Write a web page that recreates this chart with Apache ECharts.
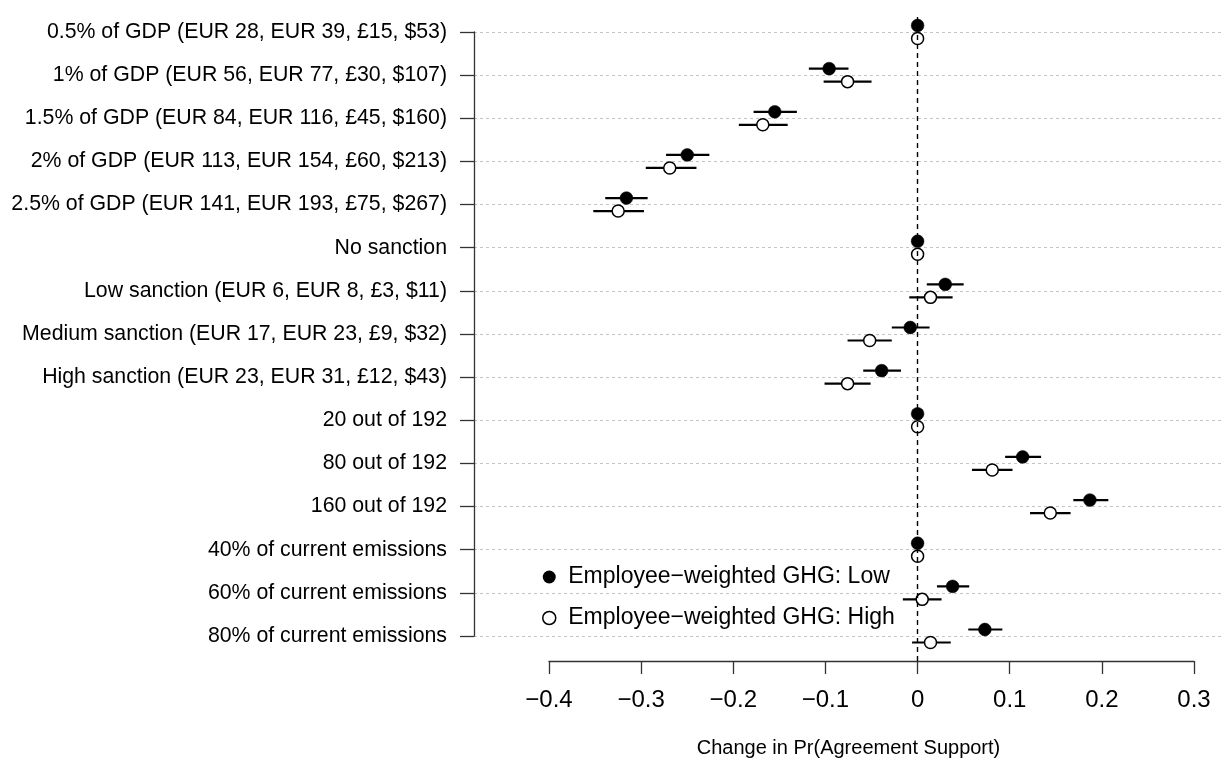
<!DOCTYPE html>
<html>
<head>
<meta charset="utf-8">
<script src="https://cdn.jsdelivr.net/npm/echarts@6/dist/echarts.min.js"></script>
<style>
html,body{margin:0;padding:0;background:#fff;}
#chart{width:1225px;height:764px;}
</style>
</head>
<body>
<div id="chart"></div>
<script>
const categories = [
  "0.5% of GDP (EUR 28, EUR 39, £15, $53)",
  "1% of GDP (EUR 56, EUR 77, £30, $107)",
  "1.5% of GDP (EUR 84, EUR 116, £45, $160)",
  "2% of GDP (EUR 113, EUR 154, £60, $213)",
  "2.5% of GDP (EUR 141, EUR 193, £75, $267)",
  "No sanction",
  "Low sanction (EUR 6, EUR 8, £3, $11)",
  "Medium sanction (EUR 17, EUR 23, £9, $32)",
  "High sanction (EUR 23, EUR 31, £12, $43)",
  "20 out of 192",
  "80 out of 192",
  "160 out of 192",
  "40% of current emissions",
  "60% of current emissions",
  "80% of current emissions"
];
const seriesNames = ["Employee\u2212weighted GHG: Low", "Employee\u2212weighted GHG: High"];

const lowEst  = [0, -0.096, -0.155, -0.250, -0.316, 0, 0.030, -0.008, -0.039, 0, 0.114, 0.187, 0, 0.038, 0.073];
const lowLo   = [null, -0.118, -0.178, -0.273, -0.339, null, 0.010, -0.028, -0.059, null, 0.095, 0.169, null, 0.021, 0.055];
const lowHi   = [null, -0.075, -0.131, -0.226, -0.293, null, 0.050, 0.013, -0.018, null, 0.134, 0.207, null, 0.056, 0.092];

const highEst = [0, -0.076, -0.168, -0.269, -0.325, 0, 0.014, -0.052, -0.076, 0, 0.081, 0.144, 0, 0.005, 0.014];
const highLo  = [null, -0.102, -0.194, -0.295, -0.352, null, -0.009, -0.076, -0.101, null, 0.059, 0.122, null, -0.016, -0.006];
const highHi  = [null, -0.050, -0.141, -0.240, -0.297, null, 0.038, -0.028, -0.051, null, 0.103, 0.166, null, 0.026, 0.036];

const xTicks = [-0.4, -0.3, -0.2, -0.1, 0, 0.1, 0.2, 0.3];

const FONT = "'Liberation Sans', Arial, Helvetica, sans-serif";

function buildData(est, lo, hi) {
  return categories.map((c, i) => [est[i], lo[i] === null ? NaN : lo[i], hi[i] === null ? NaN : hi[i], i]);
}

function makeRender(offset, filled) {
  return function (params, api) {
    const est = api.value(0), lo = api.value(1), hi = api.value(2), yi = api.value(3);
    const p = api.coord([est, yi]);
    const cy = p[1] + offset;
    const children = [];
    if (!isNaN(lo) && !isNaN(hi)) {
      const a = api.coord([lo, yi]);
      const b = api.coord([hi, yi]);
      children.push({
        type: 'line',
        shape: { x1: a[0], y1: cy, x2: b[0], y2: cy },
        style: { stroke: '#000', lineWidth: 2.2 }
      });
    }
    children.push({
      type: 'circle',
      shape: { cx: p[0], cy: cy, r: filled ? 6.4 : 6.0 },
      style: filled ? { fill: '#000', stroke: '#000', lineWidth: 0.5 } : { fill: '#fff', stroke: '#000', lineWidth: 1.5 }
    });
    return { type: 'group', children: children };
  };
}

const chart = echarts.init(document.getElementById('chart'), null, { renderer: 'canvas' });

const pxPerUnit = 921.4, zeroPx = 917.6;
const g0Left = 474, g0Right = 2;

const option = {
  animation: false,
  backgroundColor: '#fff',
  textStyle: { fontFamily: FONT },
  grid: [
    { left: g0Left, right: g0Right, top: 32, bottom: 128 },
    { left: 549, right: 31, top: 14, bottom: 103 }
  ],
  xAxis: [
    {
      gridIndex: 0, type: 'value',
      min: (g0Left - zeroPx) / pxPerUnit,
      max: (1225 - g0Right - zeroPx) / pxPerUnit,
      axisLine: { show: false }, axisTick: { show: false }, axisLabel: { show: false },
      splitLine: { show: false },
      name: 'Change in Pr(Agreement Support)',
      nameLocation: 'middle', nameGap: 102,
      nameTextStyle: { fontFamily: FONT, fontSize: 20, color: '#000' }
    },
    {
      gridIndex: 1, type: 'value', position: 'bottom',
      min: -0.4, max: 0.3, interval: 0.1,
      axisLine: { show: true, onZero: false, lineStyle: { color: '#333', width: 1.3 } },
      axisTick: { show: true, inside: false, length: 13, lineStyle: { color: '#333', width: 1.3 } },
      axisLabel: {
        margin: 27, fontSize: 24, fontFamily: FONT, color: '#000',
        formatter: function (v) {
          const r = Math.round(v * 10) / 10;
          return String(r).replace('-', '\u2212');
        }
      },
      splitLine: { show: false }
    }
  ],
  yAxis: [
    {
      gridIndex: 0, type: 'category', data: categories, inverse: true, boundaryGap: false,
      position: 'left',
      axisLine: { show: true, onZero: false, lineStyle: { color: '#333', width: 1.3 } },
      axisTick: { show: true, inside: false, length: 14, alignWithLabel: true, lineStyle: { color: '#333', width: 1.3 } },
      axisLabel: { margin: 27, fontSize: 21.3, fontFamily: FONT, color: '#000', interval: 0 },
      splitLine: { show: true, interval: 0, lineStyle: { color: '#c4c4c4', width: 1, type: [3, 3] } }
    },
    { gridIndex: 1, type: 'value', min: 0, max: 1, show: false }
  ],
  legend: {
    data: [
      { name: seriesNames[0], icon: 'circle', itemStyle: { color: '#000', borderColor: '#000', borderWidth: 0 } },
      { name: seriesNames[1], icon: 'circle', itemStyle: { color: '#fff', borderColor: '#000', borderWidth: 1.5 } }
    ],
    orient: 'vertical',
    left: 537, top: 558,
    itemWidth: 28, itemHeight: 13, itemGap: 13,
    textStyle: { fontFamily: FONT, fontSize: 23, color: '#000', lineHeight: 28 },
    selectedMode: false
  },
  series: [
    {
      type: 'scatter', xAxisIndex: 1, yAxisIndex: 1, data: [], silent: true, z: 1,
      markLine: {
        silent: true, symbol: ['none', 'none'], label: { show: false },
        lineStyle: { color: '#000', width: 1.4, type: [5, 4] },
        data: [{ xAxis: 0 }]
      }
    },
    {
      name: seriesNames[1], type: 'custom', xAxisIndex: 0, yAxisIndex: 0, z: 3,
      itemStyle: { color: '#fff', borderColor: '#000' },
      renderItem: makeRender(6.5, false),
      encode: { x: [0, 1, 2], y: 3 },
      data: buildData(highEst, highLo, highHi)
    },
    {
      name: seriesNames[0], type: 'custom', xAxisIndex: 0, yAxisIndex: 0, z: 4,
      itemStyle: { color: '#000' },
      renderItem: makeRender(-6.5, true),
      encode: { x: [0, 1, 2], y: 3 },
      data: buildData(lowEst, lowLo, lowHi)
    }
  ]
};
chart.setOption(option);
</script>
</body>
</html>
